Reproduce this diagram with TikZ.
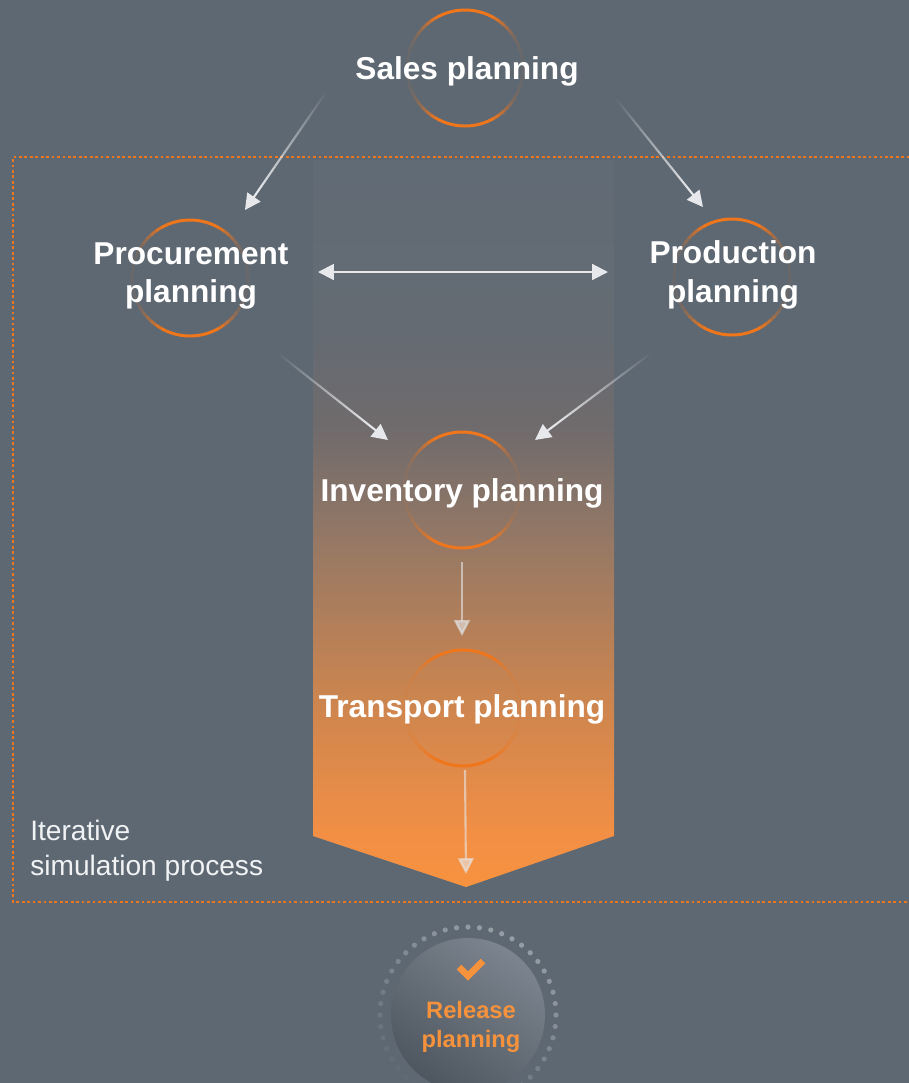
\documentclass[tikz,border=0pt]{standalone}
\usepackage{fontspec}
\setmainfont{Liberation Sans}
\usetikzlibrary{calc,arrows.meta,fadings}

\definecolor{slate}{RGB}{94,104,114}
\definecolor{ringorange}{RGB}{240,118,28}
\definecolor{arrowgray}{RGB}{230,232,235}
\definecolor{relorange}{RGB}{247,146,60}
\definecolor{dotgray}{RGB}{152,160,168}
\definecolor{labelwhite}{RGB}{240,242,244}
\definecolor{relhi}{RGB}{124,133,143}
\definecolor{rello}{RGB}{78,86,95}
\definecolor{bandA}{RGB}{247,146,63}
\definecolor{bandB}{RGB}{242,143,69}
\definecolor{bandC}{RGB}{204,133,79}
\definecolor{bandD}{RGB}{149,120,101}
\definecolor{bandE}{RGB}{112,107,108}
\definecolor{bandF}{RGB}{100,107,115}
\definecolor{bandG}{RGB}{97,107,117}

\pgfdeclareverticalshading{bandshade}{100bp}{color(0bp)=(bandA); color(25bp)=(bandA);
  color(28.6bp)=(bandB); color(37.9bp)=(bandC); color(48.9bp)=(bandD);
  color(56.4bp)=(bandE); color(63.3bp)=(bandF); color(75bp)=(bandG); color(100bp)=(bandG)}

% orange ring, strong at top and bottom, faint at the sides
\newcommand\fadering[1]{%
  \foreach \a in {0,6,...,354}{%
    \pgfmathsetmacro\op{min(1,0.07+1.6*abs(sin(\a+3))^4)}
    \draw[ringline, opacity=\op] ($(#1)+(\a:58)$) arc (\a:\a+6:58);
  }}

\tikzset{
  ring/.style={circle, minimum size=2.32cm, inner sep=0pt},
  ringline/.style={ringorange, line width=1.7pt},
  stagetext/.style={text=white, font=\bfseries\fontsize{18}{22}\selectfont, align=center, inner sep=0pt},
  flow/.style={arrowgray, line width=1.2pt, -{Triangle[length=9pt,width=9pt]}},
  flowboth/.style={arrowgray, line width=1.2pt, {Triangle[length=9pt,width=9pt]}-{Triangle[length=9pt,width=9pt]}},
  tailfade/.style={path fading=east, fading angle=#1},
}

\begin{document}
\begin{tikzpicture}[x=0.02cm, y=-0.02cm]
  \useasboundingbox (0,0) rectangle (909,1083);
  \fill[slate] (0,0) rectangle (909,1083);

  % band
  \shade[shading=bandshade] (313,160) -- (614,160) -- (614,836) -- (466,887) -- (313,836) -- cycle;
  \coordinate (tip) at (466,887);

  % frame
  \draw[ringorange, line width=1.6pt, dash pattern=on 1.6pt off 1.5pt] (915,157) -- (13,157) -- (13,902) -- (915,902);

  \node[ring] (salesring) at (465,68) {};
  \node[ring] (procring) at (190,278) {};
  \node[ring] (prodring) at (732,277) {};
  \node[ring] (invring) at (462,490) {};
  \node[ring] (transring) at (463,708) {};
  \foreach \r in {salesring,procring,prodring,invring,transring}{\fadering{\r}}

  \node[stagetext] (sales) at (467,71) {Sales planning};
  \node[stagetext] (proc) at (191,276) {Procurement\\planning};
  \node[stagetext] (prod) at (733,275) {Production\\planning};
  \node[stagetext] (inv) at (462,493) {Inventory planning};
  \node[stagetext] (trans) at (462,709) {Transport planning};

  \draw[flow, tailfade=53] ($(salesring)+(-125,4)$) -- ($(procring)+(55,-68)$);
  \draw[flow, tailfade=129] ($(salesring)+(136,12)$) -- ($(prodring)+(-29,-70)$);
  \draw[flowboth] ($(procring)+(128,-6)$) -- ($(prodring)+(-124,-5)$);
  \draw[flow, tailfade=142] ($(procring)+(70,61)$) -- ($(invring)+(-74,-50)$);
  \draw[flow, tailfade=37] ($(prodring)+(-62,62)$) -- ($(invring)+(73,-50)$);
  \draw[flow, opacity=0.6] ($(invring)+(0,72)$) -- ($(transring)+(-1,-72)$);
  \draw[flow, opacity=0.6] ($(transring)+(2,62)$) -- ($(tip)+(0,-13)$);

  \node[anchor=west, align=left, text=labelwhite, font=\fontsize{16}{20}\selectfont, inner sep=0pt] (iterlabel) at (30,851) {Iterative\\simulation process};

  % release
  \node[circle, minimum size=3.08cm, inner sep=0pt, top color=relhi, bottom color=rello, shading angle=-35] (releasering) at (468,1015) {};
  \foreach \a in {0,7.5,...,352.5}{
    \pgfmathsetmacro\op{max(0,0.5-0.45*cos(\a-120))}
    \fill[dotgray, opacity=\op] ($(releasering)+(\a:88)$) circle (2.6);
  }
  \draw[relorange, line width=3.8pt] (459,967) -- (468,976) -- (483,961);
  \node[text=relorange, font=\bfseries\fontsize{13.5}{16.5}\selectfont, align=center, inner sep=0pt] (release) at (471,1027) {Release\\planning};
\end{tikzpicture}
\end{document}
